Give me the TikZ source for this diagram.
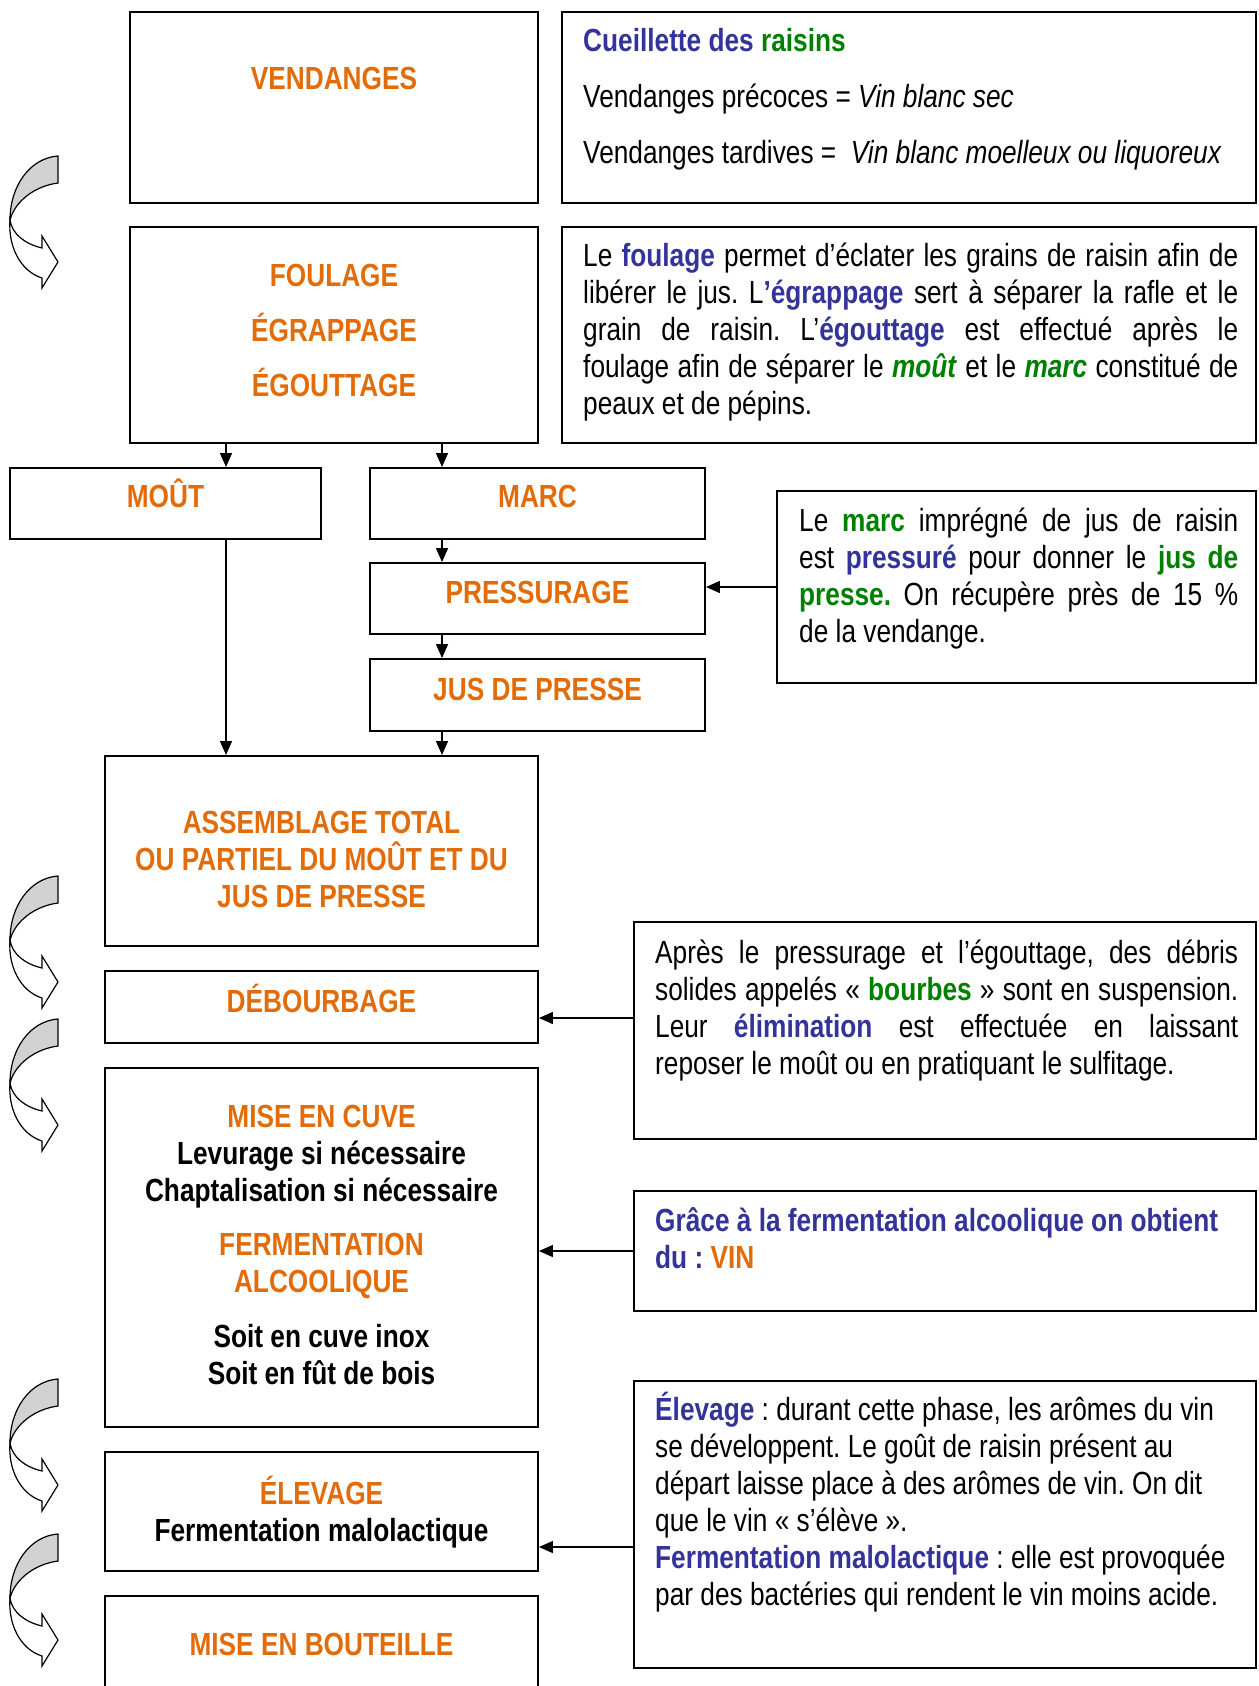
\documentclass[tikz,border=0pt]{standalone}
\usepackage{fontspec}
\setmainfont[FakeStretch=0.82]{Liberation Sans}
\usetikzlibrary{arrows.meta}
\frenchspacing

\definecolor{orangeT}{HTML}{E36C0A}
\definecolor{bleuT}{HTML}{333399}
\definecolor{vertT}{HTML}{008000}
\newcommand{\bl}[1]{\textcolor{bleuT}{\textbf{#1}}}
\newcommand{\vt}[1]{\textcolor{vertT}{\textbf{#1}}}
\newcommand{\police}{\fontsize{32}{37}\selectfont\spaceskip=7.3pt plus 3.6pt minus 2.4pt\relax}

\tikzset{
  virage/.pic={
    \path[draw,fill=gray!35,line width=1.2pt] (58,0) .. controls (30,2) and (10,30) .. (10,64)
      .. controls (15,45) and (35,30) .. (58,27) -- cycle;
    \path[draw,fill=white,line width=1.2pt] (10,64) .. controls (8,90) and (20,115) .. (42,122)
      -- (42,132) -- (58,106) -- (42,80) -- (42,92) .. controls (25,88) and (12,78) .. (10,64) -- cycle;
  }
}

\begin{document}
\begin{tikzpicture}[x=1pt,y=-1pt,font=\police,
    fleche/.style={-{Triangle[length=14pt,width=12pt]},line width=1.4pt},
    titre/.style={text=orangeT,font=\police\bfseries,text width=420pt,
      align=flush center,anchor=base,inner sep=0pt},
    corps/.style={anchor=base west,inner sep=0pt,align=justify}]
  \useasboundingbox (0,0) rectangle (1258,1686);
  \clip (0,0) rectangle (1258,1686);

  % boxes
  \begin{scope}[every node/.style={draw,line width=1.9pt,rectangle,inner sep=0pt}]
    \node[minimum width=408pt,minimum height=191pt] (vend) at (334,107.5) {};
    \node[minimum width=694pt,minimum height=191pt] (cueil) at (909,107.5) {};
    \node[minimum width=408pt,minimum height=216pt] (foul) at (334,335) {};
    \node[minimum width=694pt,minimum height=216pt] (foulbis) at (909,335) {};
    \node[minimum width=311pt,minimum height=71pt] (mout) at (165.5,503.5) {};
    \node[minimum width=335pt,minimum height=71pt] (marc) at (537.5,503.5) {};
    \node[minimum width=335pt,minimum height=71pt] (press) at (537.5,598.5) {};
    \node[minimum width=335pt,minimum height=72pt] (jus) at (537.5,695) {};
    \node[minimum width=479pt,minimum height=192pt] (marcbis) at (1016.5,587) {};
    \node[minimum width=433pt,minimum height=190pt] (assem) at (321.5,851) {};
    \node[minimum width=433pt,minimum height=72pt] (debour) at (321.5,1007) {};
    \node[minimum width=622pt,minimum height=217pt] (apres) at (945,1030.5) {};
    \node[minimum width=433pt,minimum height=359pt] (cuve) at (321.5,1247.5) {};
    \node[minimum width=622pt,minimum height=120pt] (grace) at (945,1251) {};
    \node[minimum width=433pt,minimum height=119pt] (elev) at (321.5,1511.5) {};
    \node[minimum width=622pt,minimum height=287pt] (elevbis) at (945,1524.5) {};
    \node[minimum width=433pt,minimum height=104pt] (bout) at (321.5,1648) {};
  \end{scope}

  % step names
  \node[titre] (tVend) at (334,89) {VENDANGES};
  \node[titre] (tFoul) at (334,286) {FOULAGE\\[18pt]ÉGRAPPAGE\\[18pt]ÉGOUTTAGE};
  \node[titre] (tMout) at (165.5,507.5) {MOÛT};
  \node[titre] (tMarc) at (537.5,507.5) {MARC};
  \node[titre] (tPress) at (537.5,603) {PRESSURAGE};
  \node[titre] (tJus) at (537.5,700) {JUS DE PRESSE};
  \node[titre] (tAssem) at (321.5,833) {ASSEMBLAGE TOTAL\\OU PARTIEL DU MOÛT ET DU\\JUS DE PRESSE};
  \node[titre] (tDebour) at (321.5,1012) {DÉBOURBAGE};
  \node[titre] (tCuve) at (321.5,1127) {MISE EN CUVE\\\textcolor{black}{Levurage si nécessaire}\\\textcolor{black}{Chaptalisation si nécessaire}\\[17pt]FERMENTATION\\ALCOOLIQUE\\[18pt]\textcolor{black}{Soit en cuve inox}\\\textcolor{black}{Soit en fût de bois}};
  \node[titre] (tElev) at (321.5,1504) {ÉLEVAGE\\\textcolor{black}{Fermentation malolactique}};
  \node[titre] (tBout) at (321.5,1655) {MISE EN BOUTEILLE};

  % explanations
  \node[corps,text width=672pt,align=flush left] (xCueil) at (583,51.6) {\bl{Cueillette des} \vt{raisins}\\[19pt]Vendanges précoces = \textit{Vin blanc sec}\\[19pt]Vendanges tardives = \ \textit{Vin blanc moelleux ou liquoreux}};
  \node[corps,text width=655pt] (xFoul) at (583,266.6) {Le \bl{foulage} permet d’éclater les grains de raisin afin de\linebreak libérer le jus. L\bl{’égrappage} sert à séparer la rafle et le\linebreak grain de raisin. L’\bl{égouttage} est effectué après le\linebreak foulage afin de séparer le \vt{\textit{moût}} et le \vt{\textit{marc}} constitué de\linebreak peaux et de pépins.};
  \node[corps,text width=439pt] (xMarc) at (799,531) {Le \vt{marc} imprégné de jus de raisin\linebreak est \bl{pressuré} pour donner le \vt{jus de}\linebreak \vt{presse.} On récupère près de 15 \%\linebreak de la vendange.};
  \node[corps,text width=583pt] (xApres) at (655,963) {Après le pressurage et l’égouttage, des débris\linebreak solides appelés « \vt{bourbes} » sont en suspension.\linebreak Leur \bl{élimination} est effectuée en laissant\linebreak reposer le moût ou en pratiquant le sulfitage.};
  \node[corps,text width=595pt,align=flush left,text=bleuT,font=\police\bfseries] (xGrace) at (655,1231) {Grâce à la fermentation alcoolique on obtient\\du : \textcolor{orangeT}{VIN}};
  \node[corps,text width=595pt,align=flush left] (xElev) at (655,1420) {\bl{Élevage} : durant cette phase, les arômes du vin\\se développent. Le goût de raisin présent au\\départ laisse place à des arômes de vin. On dit\\que le vin « s’élève ».\\\bl{Fermentation malolactique} : elle est provoquée\\par des bactéries qui rendent le vin moins acide.};

  % flow
  \coordinate (axeA) at (226,0);
  \coordinate (axeB) at (442,0);
  \draw[fleche] (foul.south -| axeA) -- (mout.north -| axeA);
  \draw[fleche] (foul.south -| axeB) -- (marc.north -| axeB);
  \draw[fleche] (mout.south -| axeA) -- (assem.north -| axeA);
  \draw[fleche] (marc.south -| axeB) -- (press.north -| axeB);
  \draw[fleche] (press.south -| axeB) -- (jus.north -| axeB);
  \draw[fleche] (jus.south -| axeB) -- (assem.north -| axeB);

  % side notes
  \coordinate (pD) at ([yshift=-11pt]debour.east);
  \coordinate (pE) at ([yshift=-35.5pt]elev.east);
  \draw[fleche] (marcbis.west) -- (marcbis.west -| press.east);
  \draw[fleche] (apres.west |- pD) -- (pD);
  \draw[fleche] (grace.west) -- (grace.west -| cuve.east);
  \draw[fleche] (elevbis.west |- pE) -- (pE);

  % turning arrows
  \foreach \y in {156,876,1019,1379,1534}
    \pic at (0,\y) {virage};
\end{tikzpicture}
\end{document}
